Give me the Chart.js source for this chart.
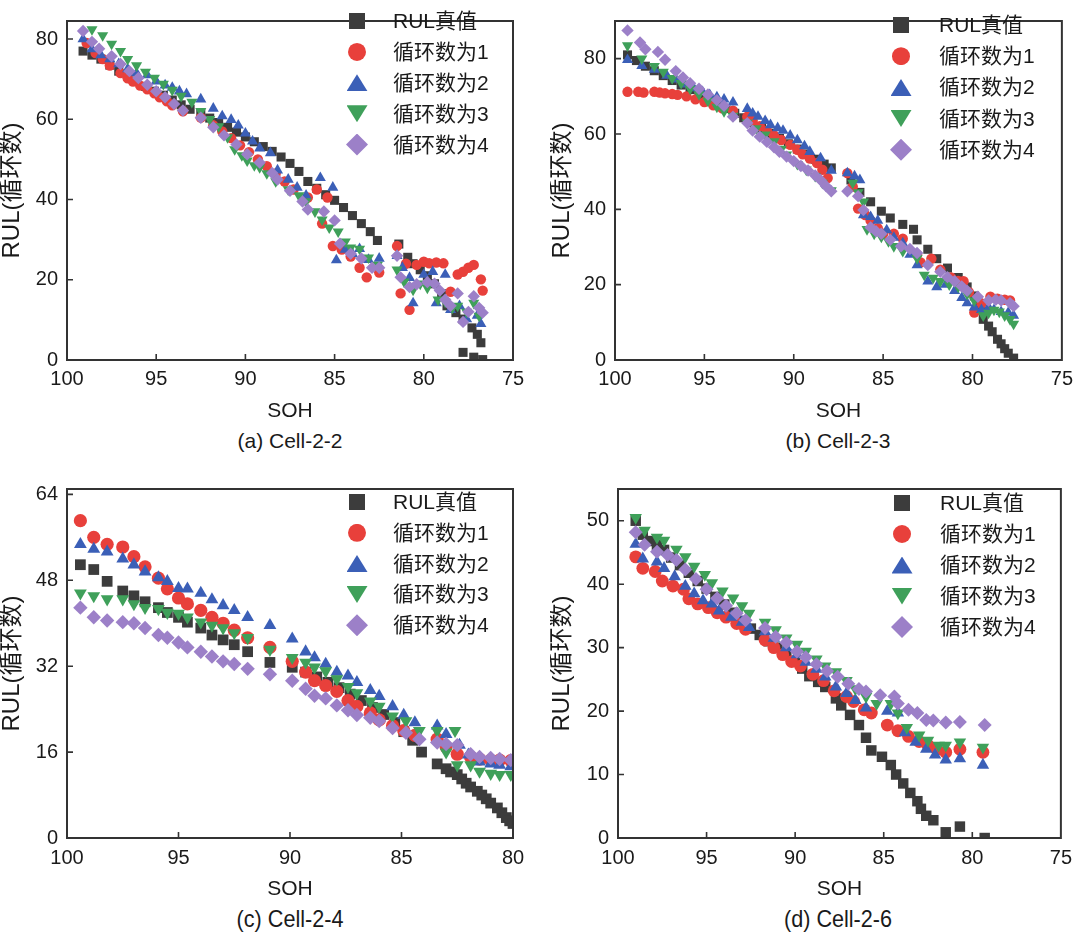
<!DOCTYPE html>
<html><head><meta charset="utf-8">
<script src="https://cdn.jsdelivr.net/npm/chart.js@4.4.1/dist/chart.umd.min.js"></script>
<style>
html,body{margin:0;padding:0;background:#fff}
body{width:1080px;height:933px;position:relative;overflow:hidden;font-family:'Liberation Sans',Arial,'Noto Sans CJK SC',sans-serif;color:#1a1a1a}
canvas{position:absolute}
.cap{position:absolute;white-space:nowrap;line-height:26px}
.lt{position:absolute;white-space:nowrap;font-size:21px;line-height:24px;font-family:'Liberation Sans',Arial,'Noto Sans CJK SC',sans-serif}
.mk{position:absolute}
</style></head>
<body>
<canvas id="ca" width="540" height="425" style="left:0;top:0"></canvas>
<canvas id="cb" width="530" height="425" style="left:550px;top:0"></canvas>
<canvas id="cc" width="540" height="436" style="left:0;top:468px"></canvas>
<canvas id="cd" width="530" height="436" style="left:550px;top:468px"></canvas>
<script>
// ---------- labels & ticks ----------
const SERIES_LABELS = ['RUL真值','循环数为1','循环数为2','循环数为3','循环数为4'];
const CAPTIONS = ['(a) Cell-2-2','(b) Cell-2-3','(c) Cell-2-4','(d) Cell-2-6'];
const X_TITLE = 'SOH';
const Y_TITLE = 'RUL(循环数)';
const X_TICKS_AB = [100,95,90,85,80,75];
const X_TICKS_C = [100,95,90,85,80];
const X_TICKS_D = [100,95,90,85,80,75];
const Y_TICKS_A = [0,20,40,60,80];
const Y_TICKS_B = [0,20,40,60,80];
const Y_TICKS_C = [0,16,32,48,64];
const Y_TICKS_D = [0,10,20,30,40,50];

// ---------- data: [SOH, RUL] ----------
const aTrue = [[99.1,77],[98.6,76],[98.1,75],[97.6,73.5],[97.1,72],[96.6,70.8],[96.1,69.5],[95.6,68.2],[95.1,67],[94.6,66],[94.1,64.8],[93.6,63.6],[93.1,62.5],[92.5,61.5],[92.0,60.3],[91.5,59.2],[91.0,58],[90.5,56.8],[90.0,55.6],[89.5,54.4],[89.0,53.2],[88.5,52],[88.0,50.6],[87.5,49],[87.0,47],[86.5,44.5],[86.0,42.8],[85.5,41.2],[85.0,39.8],[84.5,38],[84.0,36],[83.5,34],[83.0,32],[82.6,29.8],[81.4,28.9],[80.9,25.6],[80.6,24],[80.2,22.5],[79.8,21],[79.4,19],[79.0,16.5],[78.7,13.5],[78.2,11.8],[77.8,10.2],[77.3,8],[77.0,6.4],[76.8,4.3],[77.8,1.9],[77.2,0.7],[76.7,0.1]];
const aC1 = [[98.9,79],[98.4,76.5],[98.0,75],[97.6,73.4],[97.0,71.5],[96.6,70.2],[96.3,69.4],[95.9,68.4],[95.5,67.5],[95.1,66.5],[94.8,65.5],[94.4,64.5],[94.1,63.5],[93.5,62],[92.5,60.4],[91.8,58.5],[91.3,57],[90.8,55.3],[90.3,53.5],[89.8,51.8],[89.3,50],[88.8,48.3],[88.3,46.5],[87.8,44.5],[87.3,42.5],[86.5,40.5],[86.0,42.5],[85.4,40.5],[85.7,34],[85.1,28.4],[84.6,27.5],[84.1,25.8],[83.6,23],[83.2,20.6],[82.5,21.8],[81.5,28.4],[81.3,16.6],[81.0,24],[80.8,12.5],[80.4,23.7],[80.0,24.5],[79.7,24.1],[79.3,24.3],[78.9,24.1],[78.5,17],[78.1,21.3],[77.8,22],[77.5,23],[77.2,23.7],[76.8,20.1],[76.7,17.3]];
const aC2 = [[99.1,80],[98.6,77.5],[98.1,76],[97.6,75],[97.1,73.8],[96.6,72.5],[96.1,71.5],[95.5,71],[95.0,69.5],[94.5,68.5],[94.1,67.9],[93.7,67],[93.3,66.3],[92.5,65],[91.8,62.7],[91.3,60.8],[90.8,59.9],[90.4,58.5],[90.0,56.5],[89.6,54.5],[89.2,52.8],[88.6,51.6],[88.2,47.3],[87.6,45],[87.1,43],[86.6,41],[85.8,45.4],[85.1,43],[84.9,24.9],[84.4,27.5],[84.0,26.5],[83.6,27.7],[83.1,25],[82.5,25.3],[81.5,26],[81.2,23],[80.8,20.5],[80.6,14.2],[80.0,21.3],[79.5,22],[78.8,21.3],[79.3,14.2],[78.5,12.5],[78.0,13.5],[77.6,10.2],[77.0,11.1],[76.8,9]];
const aC3 = [[98.6,82.4],[98.0,80.9],[97.5,78.8],[97.0,77],[96.6,75],[96.1,73.4],[95.6,71.8],[95.1,70.3],[94.6,68.8],[94.1,67.3],[93.6,65.8],[93.0,64.3],[92.5,62],[92.0,60],[91.5,58.2],[91.0,55.5],[90.6,52.5],[90.2,51],[89.9,49.7],[89.5,48.5],[89.2,48],[88.8,46.5],[88.3,44.5],[87.6,42.5],[87.0,41],[86.6,39.5],[86.1,37],[85.7,35],[85.3,33],[84.8,32],[84.4,29.5],[84.1,28],[83.6,27.7],[83.1,25.5],[82.6,23.7],[81.5,22.5],[81.1,19.5],[80.6,17.5],[80.2,19],[79.8,18],[79.2,15],[78.8,14.5],[78.4,13],[78.1,13.5],[77.6,12],[77.2,14.2],[76.9,11]];
const aC4 = [[99.1,82],[98.6,79.3],[98.2,77.6],[97.5,75.7],[97.0,73.8],[96.5,72],[96.0,70.3],[95.5,68.6],[95.0,67],[94.5,65.5],[94.0,63.8],[93.5,62.2],[92.5,60.4],[91.8,58],[91.2,56],[90.5,53.7],[89.9,51.3],[89.2,49.2],[88.5,46.6],[88.2,45],[87.5,42.2],[86.8,39.5],[86.5,37.5],[85.6,37],[85.0,34.8],[84.7,29],[84.1,26.5],[83.5,25.3],[82.9,23],[82.5,23],[81.5,26],[81.3,20.6],[80.8,18.2],[80.4,18.9],[79.8,19.4],[79.4,19],[79.1,17.3],[78.8,15],[78.5,13.5],[78.1,16.6],[77.8,9.5],[77.5,12],[77.2,15.9],[76.9,13],[76.7,11.8]];

const bTrue = [[99.3,81],[98.8,79.5],[98.3,78],[97.8,76.8],[97.3,75.5],[96.8,74.2],[96.3,73],[95.8,71.8],[95.3,70.5],[94.8,69.2],[94.3,68],[93.8,66.8],[93.3,65.5],[92.8,64.3],[92.3,63],[91.8,61.6],[91.3,60.2],[90.8,58.8],[90.3,57.4],[89.8,56],[89.3,54.7],[88.8,53.3],[88.3,52],[87.9,51],[86.8,47.8],[86.3,44.5],[85.7,42],[85.1,39.5],[84.6,37.7],[83.9,36],[83.3,34.7],[83.1,31.9],[82.5,29.4],[82.0,26.9],[81.4,24.4],[80.8,21.9],[80.3,19.4],[79.9,17],[79.7,15.8],[79.55,13.3],[79.4,10.8],[79.1,9],[78.9,7.5],[78.6,5.5],[78.4,4.3],[78.2,3],[78.0,1.8],[77.7,0.5]];
const bC1 = [[99.3,71.2],[98.7,71.2],[98.4,71],[97.8,71.2],[97.5,71],[97.2,70.8],[96.8,70.6],[96.5,70.4],[96.0,70],[95.5,69.2],[95.0,68.5],[94.5,67.6],[94.0,66.8],[93.4,66.2],[92.6,64.6],[92.3,63.5],[91.9,62.1],[91.5,60.8],[91.1,59.6],[90.7,58.4],[90.2,57.1],[89.8,55.8],[89.5,54.6],[89.1,53.5],[88.7,52.3],[88.4,50.5],[88.1,48.3],[87.0,49.6],[86.7,46],[86.4,40.2],[86.0,38.5],[85.7,37],[85.3,35],[85.0,33.5],[84.4,33.5],[83.9,32.2],[83.1,28],[82.9,25.9],[82.3,26.9],[81.8,24],[81.2,21.9],[80.8,21],[80.5,20.9],[80.2,18],[79.9,12.6],[79.5,15],[79.0,16.8],[78.6,16.3],[78.2,16],[77.9,15.8]];
const bC2 = [[99.3,79.7],[98.5,78.1],[97.8,77.1],[97.1,75.5],[96.6,74.5],[96.1,73.2],[95.6,72.2],[95.1,71.2],[94.7,70.4],[94.3,69.8],[93.9,69.2],[93.4,68.4],[92.6,66.7],[92.3,65.5],[92.0,64.6],[91.6,63.5],[91.3,62.4],[90.9,61.6],[90.6,60.9],[90.2,59.6],[89.8,58.4],[89.4,56.8],[89.1,55.3],[88.5,53.6],[87.9,50.3],[87.0,49.6],[86.6,48.8],[86.3,47.8],[86.1,38.5],[85.7,38],[85.3,37],[84.8,34.5],[84.4,32.5],[83.9,31],[83.5,28],[83.1,25.2],[82.5,20.9],[82.0,19.4],[81.5,20],[81.0,18.4],[80.6,16.5],[80.3,15.1],[79.9,14],[79.5,13.3],[79.1,14],[78.8,13.3],[78.4,12.8],[78.0,12.6],[77.7,11.8]];
const bC3 = [[99.3,83.5],[98.5,80],[97.8,78],[97.3,76.5],[96.8,74.8],[96.3,73.5],[95.8,72],[95.3,70.5],[94.8,68.8],[94.3,67.2],[93.9,66],[93.4,64.8],[92.6,63],[92.1,61.5],[91.6,59.8],[91.1,58],[90.7,56],[90.4,54.5],[89.8,52],[89.3,50.5],[88.8,48.8],[88.4,47],[87.9,45],[86.7,47],[86.4,44.5],[86.1,42],[85.9,34.7],[85.5,33.5],[85.1,32.7],[84.7,31.5],[84.4,30.2],[83.9,28.9],[83.1,27],[82.7,22.6],[82.2,21.8],[81.8,20.9],[81.3,20],[80.8,19.4],[80.3,17.5],[79.9,15.8],[79.4,11.8],[79.1,12.5],[78.8,13.3],[78.5,12.8],[78.2,11.8],[77.9,10.8],[77.7,9.6]];
const bC4 = [[99.3,87.5],[98.6,84.3],[98.3,82.5],[97.6,81.8],[97.2,79.7],[96.6,76.7],[96.2,75],[95.8,73.5],[95.3,72],[94.8,70.5],[94.3,69],[93.9,67.5],[93.4,64.6],[92.6,62.9],[92.3,60.9],[91.9,59.3],[91.5,57.9],[91.1,56.5],[90.8,55.3],[90.4,54],[90.0,52.8],[89.6,51.5],[89.2,50.3],[88.8,49],[88.5,47.8],[88.2,46.2],[87.9,44.8],[87.0,44.8],[86.4,43.5],[86.1,39.8],[85.7,35.2],[85.4,34.2],[85.1,33.5],[84.6,31.9],[84.0,30.2],[83.5,29.5],[83.1,28.4],[82.5,25.2],[81.8,23.4],[81.4,22],[81.0,20.9],[80.6,19.5],[80.3,18.4],[79.7,16.8],[79.1,15.8],[78.7,16],[78.4,15.8],[77.9,15.1],[77.7,14.3]];

const cTrue = [[99.4,50.9],[98.8,50],[98.2,47.8],[97.5,46],[97.0,45.1],[96.5,44],[95.9,42.9],[95.5,42],[95.0,41.1],[94.6,40.2],[94.0,39.1],[93.5,37.8],[93.0,36.9],[92.5,36],[91.9,34.7],[90.9,32.7],[89.9,31.8],[89.3,30.9],[88.8,30],[88.3,29],[87.8,28],[87.3,26.8],[86.8,25.6],[86.3,24.3],[85.8,23],[85.3,21.5],[84.9,19.8],[84.5,18.2],[84.1,16],[83.4,13.8],[83.0,12.9],[82.8,12.3],[82.5,11.8],[82.3,11],[82.1,10.2],[81.9,9.5],[81.6,8.7],[81.4,8],[81.2,7.3],[81.0,6.5],[80.7,5.6],[80.5,4.7],[80.3,3.8],[80.15,3.2],[80.0,2.7]];
const cC1 = [[99.4,59.1],[98.8,56],[98.2,54.7],[97.5,54.2],[97.0,52.4],[96.5,50.5],[95.9,48.4],[95.5,46.4],[95.0,44.7],[94.6,43.6],[94.0,42.4],[93.5,41.1],[93.0,40],[92.5,38.7],[91.9,37.3],[90.9,35.5],[89.9,32.9],[89.3,30.9],[88.9,29.3],[88.4,28.4],[87.9,27.3],[87.4,25.6],[87.0,24.5],[86.4,23.3],[86.0,22],[85.4,20.9],[84.9,20],[84.4,19.1],[83.4,18.4],[83.0,17],[82.5,15.6],[81.9,15.1],[81.5,14.7],[81.0,14.5],[80.6,14.5],[80.1,14.4]];
const cC2 = [[99.4,54.7],[98.8,53.8],[98.2,53.3],[97.5,52],[97.0,50.9],[96.5,49.6],[95.9,48.5],[95.5,47.8],[95.0,46.5],[94.6,46.4],[94.0,45.6],[93.5,44.4],[93.0,43.3],[92.5,42.4],[91.9,41.1],[90.9,39.6],[89.9,37.1],[89.3,34.7],[88.9,33.6],[88.4,32.4],[87.9,30.9],[87.4,30.2],[87.0,29],[86.4,27.5],[86.0,26.4],[85.4,24.5],[84.9,22.9],[84.4,21.5],[83.4,20.9],[83.0,19.3],[82.4,17.3],[82.0,15.5],[81.5,14.2],[81.0,13.8],[80.6,13.6],[80.1,13.3]];
const cC3 = [[99.4,45.6],[98.8,45.1],[98.2,44.5],[97.5,44.5],[97.0,43.6],[96.5,42.9],[95.9,42.7],[95.5,42],[95.0,41.8],[94.6,41.1],[94.0,40.2],[93.5,39.6],[93.0,39.1],[92.5,38.2],[91.9,37.3],[90.9,35.1],[89.9,33.6],[89.3,32.7],[88.9,31.8],[88.4,31.1],[87.9,29.6],[87.4,28.2],[87.0,27],[86.4,25.5],[86.0,24.5],[85.4,22.7],[84.8,21.8],[84.2,20],[83.4,20],[83.0,16],[82.6,20],[82.5,13.6],[81.9,13.6],[81.5,12.4],[81.0,12],[80.6,11.8],[80.1,11.8]];
const cC4 = [[99.4,42.9],[98.8,41.1],[98.2,40.5],[97.5,40.2],[97.0,40],[96.5,39.1],[95.9,37.8],[95.5,37.3],[95.0,36.4],[94.6,35.5],[94.0,34.7],[93.5,33.8],[93.0,32.9],[92.5,32.4],[91.9,31.5],[90.9,30.5],[89.9,29.3],[89.3,27.8],[88.9,26.5],[88.4,26],[87.9,24.7],[87.4,23.8],[87.0,22.9],[86.4,22.4],[86.0,21.8],[85.4,20.5],[84.8,19.6],[84.2,18.4],[83.4,17.8],[83.0,17.5],[82.5,17.3],[81.9,15.6],[81.5,15.1],[81.0,14.9],[80.6,14.7],[80.1,14.5]];

const dTrue = [[99.0,50],[98.6,47.8],[98.2,46.8],[97.8,46.2],[97.4,45.4],[97.0,44.2],[96.5,43],[96.0,41.8],[95.5,40.5],[95.0,39.3],[94.5,38],[94.0,36.8],[93.5,35.5],[93.0,34.2],[92.5,33],[92.0,32],[91.5,31],[91.0,30],[90.5,29],[90.0,27.8],[89.6,26.7],[89.2,25.5],[88.7,24.6],[88.3,23.8],[87.7,22],[87.4,20.9],[86.9,19.4],[86.4,17.8],[86.0,15.8],[85.7,13.8],[85.1,12.8],[84.6,11.5],[84.3,10],[83.9,8.6],[83.5,7.1],[83.1,5.8],[82.9,4.6],[82.6,3.5],[82.2,2.8],[81.5,0.9],[80.7,1.8],[79.3,0]];
const dC1 = [[99.0,44.3],[98.6,42.5],[97.9,42],[97.5,40.5],[96.9,39.7],[96.3,39.2],[96.0,37.7],[95.5,36.9],[94.9,36.3],[94.4,35.5],[93.9,34.8],[93.3,33.8],[92.8,32.9],[91.7,31.2],[91.2,30],[90.7,28.9],[90.2,27.8],[89.7,27.1],[89.0,25.8],[88.4,24.8],[87.8,23.2],[87.1,22.3],[86.7,21.5],[86.1,20.2],[85.7,19.7],[84.8,17.8],[84.2,16.9],[83.6,16],[83.0,15.2],[82.5,14.6],[82.0,14],[81.5,13.5],[80.7,14],[79.4,13.5]];
const dC2 = [[99.0,46.3],[98.6,44],[97.8,43.5],[97.4,42.5],[96.8,41.2],[96.2,39.7],[95.7,38.5],[95.2,37.4],[94.7,36.9],[94.3,35.8],[93.6,34.8],[93.0,34],[92.6,33.2],[91.7,32.5],[91.2,31.5],[90.5,30],[89.9,28.9],[89.4,27.7],[88.8,26.6],[88.3,25.4],[87.7,23.8],[87.1,22.8],[86.6,21.7],[86.0,20.5],[84.8,20],[84.2,19.7],[83.8,16.6],[83.2,15.1],[82.6,14],[82.1,13.1],[81.5,12.3],[80.7,12.5],[79.4,11.5]];
const dC3 = [[99.0,50.5],[98.5,48.5],[97.8,47.4],[97.4,46.9],[96.7,45.5],[96.2,44.3],[95.7,42.8],[95.1,41.5],[94.7,40.2],[94.1,38.9],[93.5,37.8],[93.0,36.6],[92.6,35.4],[91.7,34],[91.1,32.8],[90.5,31.5],[89.9,30.5],[89.4,29.4],[88.8,28.2],[88.3,27.1],[87.7,26.2],[87.1,24.8],[86.6,23.5],[86.0,22.3],[85.4,21.2],[84.6,21.2],[84.2,19.7],[83.7,17.4],[83.0,16.2],[82.5,15.4],[81.9,14.6],[81.5,14.6],[80.7,15.1],[79.4,14.3]];
const dC4 = [[99.0,48.2],[98.5,46.2],[97.8,45.1],[97.2,44.6],[96.7,43.8],[96.2,42.3],[95.6,40.8],[95.0,39.2],[94.4,37.8],[93.9,36.6],[93.3,35.4],[92.8,34.3],[91.7,33.1],[91.1,31.7],[90.5,30.8],[89.9,29.4],[89.4,28.5],[88.8,27.4],[88.2,26.3],[87.6,25.4],[87.0,24.3],[86.4,23.5],[86.0,23.1],[85.2,22.5],[84.4,22.3],[84.2,21.2],[83.6,20.2],[83.1,19.7],[82.6,18.6],[82.2,18.5],[81.5,18.2],[80.7,18.3],[79.3,17.8]];

// ---------- styles ----------
const COLORS = ['#3c3c3c','#e8403b','#3b5fb7','#3fa05a','#9c80c8'];
const STYLES = ['rect','circle','triangle','triangle','rectRot'];
const ROTS = [0,0,0,180,0];
const FONT = "'Liberation Sans', Arial, 'Noto Sans CJK SC', sans-serif";
const TXT = '#1a1a1a';

const framePlugin = {
  id: 'frame',
  afterDatasetsDraw(chart) {
    const {ctx, chartArea: {left, top, right, bottom}, scales: {x, y}} = chart;
    ctx.save();
    ctx.strokeStyle = '#333';
    ctx.lineWidth = 1.6;
    ctx.beginPath();
    x.ticks.forEach(t => { const px = x.getPixelForValue(t.value); if (px > left + 2 && px < right - 2) { ctx.moveTo(px, bottom); ctx.lineTo(px, bottom - 6); } });
    y.ticks.forEach(t => { const py = y.getPixelForValue(t.value); if (py > top + 2 && py < bottom - 2) { ctx.moveTo(left, py); ctx.lineTo(left + 6, py); } });
    ctx.stroke();
    ctx.lineWidth = 2;
    ctx.strokeRect(left, top, right - left, bottom - top);
    ctx.restore();
  }
};

function makeChart(p) {
  const datasets = p.data.map((d, i) => ({
    label: SERIES_LABELS[i],
    data: d.map(v => ({x: v[0], y: v[1]})),
    pointStyle: STYLES[i],
    pointRotation: ROTS[i],
    pointRadius: p.radii[i],
    pointBackgroundColor: COLORS[i],
    pointBorderColor: COLORS[i],
    pointBorderWidth: 0,
    showLine: false,
    order: 5 - i
  }));
  const tf = {family: FONT, size: p.tickSize};
  new Chart(document.getElementById(p.id), {
    type: 'scatter',
    data: {datasets},
    options: {
      responsive: false, animation: false, events: [],
      layout: {padding: p.pad},
      plugins: {legend: {display: false}, tooltip: {enabled: false}},
      scales: {
        x: {
          type: 'linear', reverse: true, min: p.xmin, max: p.xmax,
          afterBuildTicks: s => { s.ticks = p.xt.map(v => ({value: v})); },
          afterFit: s => { s.height = p.xh; },
          grid: {display: false, drawTicks: false}, border: {display: false},
          ticks: {font: tf, color: TXT, padding: p.xpad, maxRotation: 0, autoSkip: false},
          title: {display: true, text: X_TITLE, color: TXT, font: {family: FONT, size: 21}, padding: {top: 0, bottom: p.tpad}}
        },
        y: {
          type: 'linear', min: 0, max: p.ymax,
          afterBuildTicks: s => { s.ticks = p.yt.map(v => ({value: v})); },
          afterFit: s => { s.width = p.yw; },
          grid: {display: false, drawTicks: false}, border: {display: false},
          ticks: {font: tf, color: TXT, padding: 9, autoSkip: false},
          title: {display: true, text: Y_TITLE, color: TXT, font: {family: FONT, size: 24}, padding: {top: -2, bottom: 0}}
        }
      }
    },
    plugins: [framePlugin]
  });
}

const PANELS = [
  {id: 'ca', data: [aTrue, aC1, aC2, aC3, aC4], xmin: 75, xmax: 100, ymax: 84.5, xt: X_TICKS_AB, yt: Y_TICKS_A,
   pad: {left: 0, top: 3, right: 27, bottom: 0}, yw: 67, xh: 65, xpad: 7, tpad: 1, tickSize: 20, radii: [6.4, 5.2, 6.4, 6.4, 6.2]},
  {id: 'cb', data: [bTrue, bC1, bC2, bC3, bC4], xmin: 75, xmax: 100, ymax: 90, xt: X_TICKS_AB, yt: Y_TICKS_B,
   pad: {left: 0, top: 3, right: 18, bottom: 0}, yw: 65, xh: 65, xpad: 7, tpad: 1, tickSize: 20, radii: [6.4, 5.2, 6.4, 6.4, 6.2]},
  {id: 'cc', data: [cTrue, cC1, cC2, cC3, cC4], xmin: 80, xmax: 100, ymax: 65, xt: X_TICKS_C, yt: Y_TICKS_C,
   pad: {left: 0, top: 12, right: 27, bottom: 0}, yw: 67, xh: 66, xpad: 8, tpad: 2, tickSize: 20, radii: [7.6, 6.6, 7.4, 7.4, 7.2]},
  {id: 'cd', data: [dTrue, dC1, dC2, dC3, dC4], xmin: 75, xmax: 100, ymax: 55, xt: X_TICKS_D, yt: Y_TICKS_D,
   pad: {left: 0, top: 13, right: 17, bottom: 0}, yw: 68, xh: 66, xpad: 8, tpad: 2, tickSize: 20, radii: [7.4, 6.4, 7.2, 7.2, 7.0]}
];
PANELS.forEach(makeChart);

// ---------- captions ----------
const CAP_POS = [[290, 428, 21, 1], [838, 428, 21, 1], [290, 906, 24, 0.9], [838, 906, 24, 0.9]];
CAPTIONS.forEach((t, i) => {
  const d = document.createElement('div');
  d.className = 'cap';
  d.textContent = t;
  d.style.left = CAP_POS[i][0] + 'px';
  d.style.top = CAP_POS[i][1] + 'px';
  d.style.fontSize = CAP_POS[i][2] + 'px';
  d.style.transform = 'translateX(-50%) scaleX(' + CAP_POS[i][3] + ')';
  document.body.appendChild(d);
});

// ---------- legends (HTML) ----------
const LEG_POS = [[357, 393, 21, 30.9], [901, 939, 25, 31.2], [357, 393, 502, 30.8], [902, 940, 503, 31]];
const MK = [
  {w: 16, h: 16, clip: 'none'},
  {w: 18, h: 18, clip: 'circle(50%)'},
  {w: 21, h: 17, clip: 'polygon(50% 0,100% 100%,0 100%)'},
  {w: 21, h: 17, clip: 'polygon(0 0,100% 0,50% 100%)'},
  {w: 22, h: 22, clip: 'polygon(50% 0,100% 50%,50% 100%,0 50%)'}
];
LEG_POS.forEach(([mx, tx, y0, dy]) => {
  SERIES_LABELS.forEach((lab, i) => {
    const cy = y0 + i * dy;
    const m = document.createElement('div');
    m.className = 'mk';
    m.style.left = (mx - MK[i].w / 2) + 'px';
    m.style.top = (cy - MK[i].h / 2) + 'px';
    m.style.width = MK[i].w + 'px';
    m.style.height = MK[i].h + 'px';
    m.style.background = COLORS[i];
    if (MK[i].clip !== 'none') m.style.clipPath = MK[i].clip;
    document.body.appendChild(m);
    const t = document.createElement('div');
    t.className = 'lt';
    t.textContent = lab;
    t.style.left = tx + 'px';
    t.style.top = (cy - 12) + 'px';
    document.body.appendChild(t);
  });
});
</script>
</body></html>
